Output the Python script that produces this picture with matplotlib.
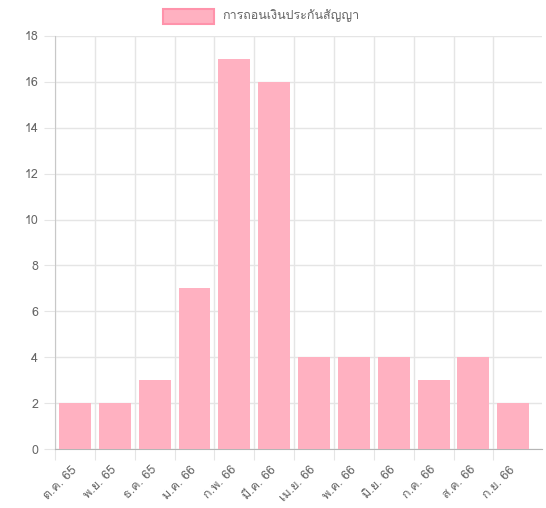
import matplotlib
matplotlib.use("Agg")
import matplotlib.pyplot as plt
from matplotlib import font_manager
from matplotlib.patches import Rectangle
from matplotlib.transforms import ScaledTranslation

categories = ["ต.ค. 65", "พ.ย. 65", "ธ.ค. 65", "ม.ค. 66", "ก.พ. 66", "มี.ค. 66",
              "เม.ย. 66", "พ.ค. 66", "มิ.ย. 66", "ก.ค. 66", "ส.ค. 66", "ก.ย. 66"]
values = [2, 2, 3, 7, 17, 16, 4, 4, 4, 3, 4, 2]
series_label = "การถอนเงินประกันสัญญา"
yticks = [0, 2, 4, 6, 8, 10, 12, 14, 16, 18]

# find a font with Thai glyphs
thai_family = None
try:
    from fontTools.ttLib import TTFont
    for f in font_manager.fontManager.ttflist:
        try:
            tt = TTFont(f.fname, fontNumber=0, lazy=True)
            cmap = tt.getBestCmap()
            if cmap and 0x0E01 in cmap and 0x0E32 in cmap:
                thai_family = f.name
                break
        except Exception:
            pass
except Exception:
    pass
fams = ([thai_family] if thai_family else []) + ["DejaVu Sans"]
plt.rcParams['font.family'] = fams

W, H = 546, 508
x0, x1, y0, y1 = 55, 542, 449, 36
step = 39.85  # px per category
fig = plt.figure(figsize=(W/100, H/100), dpi=100)
ax = fig.add_axes([x0/W, 1-y0/H, (x1-x0)/W, (y0-y1)/H])

n = len(categories)
x = list(range(n))
ax.bar(x, values, width=0.8, color="#FFB1C1", edgecolor="#FFB1C1", linewidth=0, zorder=3)
ax.set_xlim(-0.5, -0.5 + (x1 - x0) / step)
ax.set_ylim(0, 18)
ax.set_yticks(yticks)
ax.set_yticklabels([str(t) for t in yticks], color="#666666", fontsize=9)
ax.set_xticks([i - 0.5 for i in range(n)], minor=False)
ax.set_xticklabels([""] * n)
ax.set_xticks(x, minor=True)
ax.set_xticklabels(categories, minor=True, rotation=45, ha="right", rotation_mode="anchor",
                   color="#666666", fontsize=9)
ax.tick_params(axis="x", which="minor", length=0, pad=10)
ax.tick_params(axis="x", which="major", length=8, color="#E5E5E5")
ax.tick_params(axis="y", length=8, color="#E5E5E5", pad=4)
ax.grid(True, which="major", color="#E5E5E5", linewidth=1, zorder=0)
for s in ["top", "right"]:
    ax.spines[s].set_visible(False)
ax.spines["left"].set_color("#C8C8C8")
ax.spines["bottom"].set_color("#B5B5B5")

offset = ScaledTranslation(-4/100, -1/100, fig.dpi_scale_trans)
for lbl in ax.get_xticklabels(minor=True):
    lbl.set_transform(lbl.get_transform() + offset)

# legend
fig.patches.append(Rectangle((163/W, 1-24/H), 51/W, 15/H, transform=fig.transFigure,
                             facecolor="#FFB1C1", edgecolor="#FF93AB", linewidth=1.5))
fig.text(222/W, 1-15.5/H, series_label, color="#666666", fontsize=9, va="center", ha="left")

fig.savefig("out.png", dpi=100)
